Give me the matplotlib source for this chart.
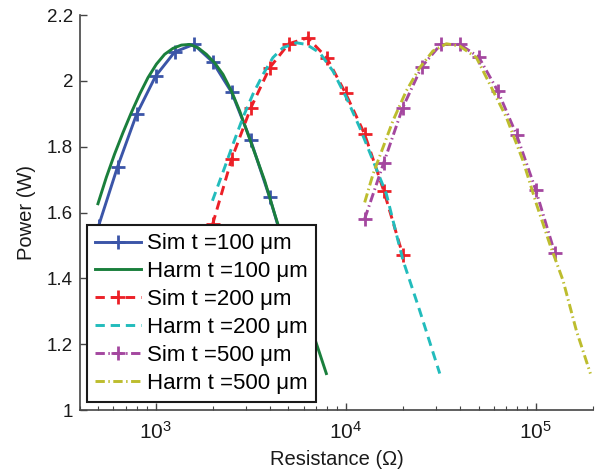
import matplotlib.pyplot as plt
from matplotlib.ticker import LogLocator, NullFormatter

plt.rcParams["font.family"] = ["Liberation Sans", "DejaVu Sans"]
plt.rcParams["mathtext.fontset"] = "custom"
plt.rcParams["mathtext.rm"] = "Liberation Sans"
plt.rcParams["mathtext.it"] = "Liberation Sans:italic"

# simulated points (0.1 decade steps)
sim100_r = [501, 631, 794, 1000, 1259, 1585, 1995, 2512, 3162, 3981, 5012]
sim100_p = [1.56, 1.740, 1.899, 2.015, 2.088, 2.111, 2.058, 1.965, 1.820, 1.646, 1.45]

sim200_r = [1995, 2512, 3162, 3981, 5012, 6310, 7943, 10000, 12589, 15849, 19953]
sim200_p = [1.565, 1.763, 1.917, 2.040, 2.113, 2.131, 2.071, 1.962, 1.838, 1.667, 1.472]

sim500_r = [12589, 15849, 19953, 25119, 31623, 39811, 50119, 63096, 79433, 100000, 125893]
sim500_p = [1.581, 1.751, 1.919, 2.043, 2.111, 2.111, 2.073, 1.970, 1.835, 1.669, 1.478]

# harmonic balance curves
harm100_r = [497, 550, 608, 673, 745, 824, 911, 1009, 1115, 1233, 1366, 1510,
             1670, 1849, 2044, 2261, 2502, 2767, 3061, 3388, 3748, 4230, 5000,
             6000, 7300, 7910]
harm100_p = [1.627, 1.707, 1.778, 1.843, 1.904, 1.960, 2.010, 2.051, 2.081,
             2.099, 2.109, 2.111, 2.101, 2.081, 2.055, 2.020, 1.970, 1.909,
             1.838, 1.768, 1.697, 1.596, 1.461, 1.319, 1.172, 1.111]

harm200_r = [1990, 2307, 2553, 2879, 3251, 3672, 4141, 4677, 5504, 6210, 7295,
             8570, 10090, 11860, 13930, 16370, 18480, 20030, 24500, 31260]
harm200_p = [1.636, 1.737, 1.808, 1.889, 1.960, 2.020, 2.071, 2.101, 2.116,
             2.111, 2.086, 2.030, 1.949, 1.858, 1.758, 1.657, 1.535, 1.455,
             1.303, 1.111]

harm500_r = [12590, 13930, 15720, 17730, 20850, 24500, 28780, 33880, 39810,
             48750, 70150, 85700, 100900, 118500, 139200, 163600, 194000]
harm500_p = [1.631, 1.717, 1.798, 1.879, 1.970, 2.040, 2.091, 2.113, 2.106,
             2.071, 1.889, 1.758, 1.626, 1.505, 1.394, 1.242, 1.111]

fig = plt.figure(figsize=(5.95, 4.73), dpi=100)
ax = fig.add_axes([0.1345, 0.133, 0.862, 0.835])

lw = 2.1
dash = (0, (3.2, 2.0))
dashdot = (0, (3.2, 1.2, 0.5, 1.2))
ax.plot(sim100_r, sim100_p, color="#3b55a8", lw=lw, marker="+", ms=10, mew=2,
        label="Sim t =100 μm")
ax.plot(harm100_r, harm100_p, color="#1a7f3c", lw=lw,
        label="Harm t =100 μm")
ax.plot(sim200_r, sim200_p, color="#ec2027", lw=lw, ls=dash,
        marker="+", ms=10, mew=2, label="Sim t =200 μm")
ax.plot(harm200_r, harm200_p, color="#22bcbc", lw=lw, ls=dash,
        label="Harm t =200 μm")
ax.plot(sim500_r, sim500_p, color="#a4479f", lw=lw, ls=dashdot,
        marker="+", ms=10, mew=2, label="Sim t =500 μm")
ax.plot(harm500_r, harm500_p, color="#bdbd2e", lw=lw, ls=dashdot,
        label="Harm t =500 μm")

ax.set_xscale("log")
ax.set_xlim(400, 2e5)
ax.set_ylim(1, 2.2)
ax.set_yticks([1, 1.2, 1.4, 1.6, 1.8, 2, 2.2])
ax.set_yticklabels(["1", "1.2", "1.4", "1.6", "1.8", "2", "2.2"])
ax.xaxis.set_minor_locator(LogLocator(base=10, subs=range(2, 10)))
ax.xaxis.set_minor_formatter(NullFormatter())

for side in ("top", "right"):
	ax.spines[side].set_visible(False)
for side in ("left", "bottom"):
	ax.spines[side].set_color("#444444")
	ax.spines[side].set_linewidth(1.2)

ax.tick_params(which="both", direction="in", colors="#444444",
               labelcolor="#1a1a1a", labelsize=13.5)
ax.tick_params(which="major", length=5, width=1)
ax.tick_params(which="minor", length=3, width=0.8)
ax.tick_params(axis="x", which="both", pad=8, labelsize=15)
ax.tick_params(axis="y", pad=5)

ax.set_xlabel("Resistance (Ω)", fontsize=14.5, color="#1a1a1a", labelpad=5)
ax.set_ylabel("Power (W)", fontsize=14.5, color="#1a1a1a", labelpad=8)

leg = ax.legend(loc="lower left", bbox_to_anchor=(0.0136, 0.02), fontsize=16,
                fancybox=False, framealpha=1, edgecolor="#1a1a1a",
                handlelength=2.05, handletextpad=0.25, labelspacing=0.31,
                borderpad=0.38, borderaxespad=0)
leg.get_frame().set_linewidth(1.5)

fig.savefig("out.png", dpi=100)
